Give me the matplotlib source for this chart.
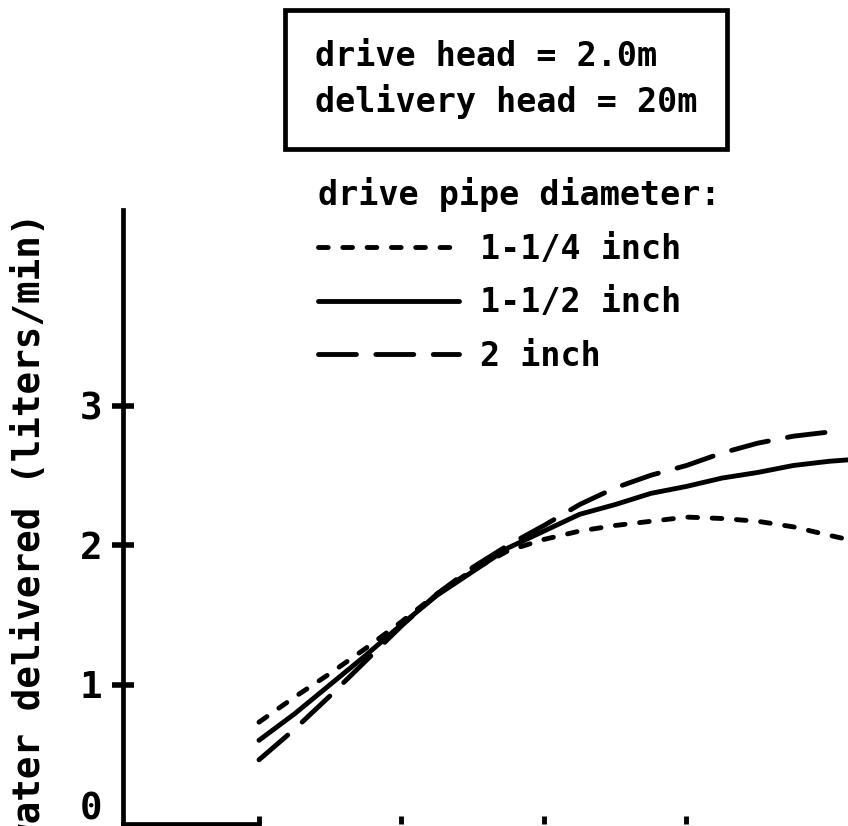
import matplotlib
matplotlib.use("Agg")
import matplotlib.pyplot as plt
from matplotlib.font_manager import FontProperties
from matplotlib.transforms import ScaledTranslation

# Water delivered by the ram pump for three drive pipe sizes
x_vals = [1.0, 1.25, 1.5, 1.75, 2.0, 2.25, 2.5, 2.75, 3.0, 3.25, 3.5, 3.75,
          4.0, 4.25, 4.5, 4.75, 5.0, 5.13]
q_1_25in = [0.73, 0.91, 1.08, 1.26, 1.45, 1.65, 1.82, 1.96, 2.04, 2.10, 2.14,
            2.17, 2.20, 2.19, 2.17, 2.13, 2.07, 2.04]
q_1_50in = [0.60, 0.79, 1.00, 1.21, 1.43, 1.64, 1.81, 1.98, 2.10, 2.22, 2.29,
            2.37, 2.42, 2.48, 2.52, 2.57, 2.60, 2.61]
q_2_00in = [0.46, 0.68, 0.92, 1.17, 1.42, 1.65, 1.84, 2.00, 2.14, 2.29, 2.41,
            2.50, 2.57, 2.66, 2.73, 2.78, 2.81]

series_labels = ["1-1/4 inch", "1-1/2 inch", "2 inch"]
y_ticks = [0, 1, 2, 3]
y_tick_labels = ["0", "1", "2", "3"]
x_ticks = [1, 2, 3, 4]

y_label = "water delivered (liters/min)"
legend_title = "drive pipe diameter:"
conditions = "drive head = 2.0m\ndelivery head = 20m"

plt.rcParams["font.family"] = ["DejaVu Sans Mono"]
plt.rcParams["font.weight"] = "bold"

W, H = 848, 826
fig = plt.figure(figsize=(W / 100, H / 100), dpi=100)
fig.patch.set_facecolor("white")

font_main = FontProperties(family="DejaVu Sans Mono", weight="bold", size=24)
font_axis = FontProperties(family="DejaVu Sans Mono", weight="bold", size=27)

# axes box in pixels: y axis at x=123, x axis at y=824, y axis top at y=210
left_px, bottom_px, top_px = 123, 824, 210
ax = fig.add_axes([left_px / W, (H - bottom_px) / H,
                   (W - left_px) / W, (bottom_px - top_px) / H])
ax.set_facecolor("none")

xmin = 1 + (left_px - 259) / 142.5
xmax = 1 + (W - 259) / 142.5
ax.set_xlim(xmin, xmax)
ax.set_ylim(0, (bottom_px - top_px) / 139.5)

lw = 3.5
ax.plot(x_vals, q_1_25in, color="black", lw=lw, linestyle=(0, (2.0, 3.0)),
        dash_capstyle="round", label=series_labels[0])
ax.plot(x_vals, q_1_50in, color="black", lw=lw, solid_capstyle="round",
        label=series_labels[1])
ax.plot(x_vals[:len(q_2_00in)], q_2_00in, color="black", lw=lw,
        linestyle=(0, (7.8, 4.0)), dash_capstyle="round",
        label=series_labels[2])

for side in ("top", "right"):
    ax.spines[side].set_visible(False)
ax.spines["left"].set_linewidth(3.4)
ax.spines["bottom"].set_linewidth(3.4)
ax.spines["bottom"].set_bounds(xmin, 1.0)

ax.set_yticks(y_ticks)
ax.set_yticklabels(y_tick_labels, fontproperties=font_axis)
ax.tick_params(axis="y", direction="inout", length=16.5, width=4, pad=6.5,
               colors="black")
ax.set_xticks(x_ticks)
ax.set_xticklabels([])
ax.tick_params(axis="x", direction="in", length=6, width=3.5, colors="black")

# the "0" sits a little above the corner, and the corner has no tick mark
yt0 = ax.yaxis.get_major_ticks()[0]
yt0.tick1line.set_visible(False)
yt0.label1.set_transform(yt0.label1.get_transform() +
                         ScaledTranslation(0, 0.19, fig.dpi_scale_trans))

fig.text(30 / W, 1 - 213 / H, y_label, rotation=90, ha="center", va="top",
         fontproperties=font_axis)

fig.text(315 / W, 1 - 40 / H, conditions, ha="left", va="top",
         fontproperties=font_main, linespacing=1.38,
         bbox=dict(boxstyle="square,pad=0.9", fc="white", ec="black", lw=3.4))

leg = ax.legend(title=legend_title, loc="upper left",
                bbox_to_anchor=(318 / W, 1 - 177 / H),
                bbox_transform=fig.transFigure, frameon=False,
                prop=font_main, title_fontproperties=font_main,
                handlelength=4.23, handletextpad=0.63, labelspacing=0.62,
                borderpad=0, borderaxespad=0, alignment="left")

fig.savefig("out.png", dpi=100)
